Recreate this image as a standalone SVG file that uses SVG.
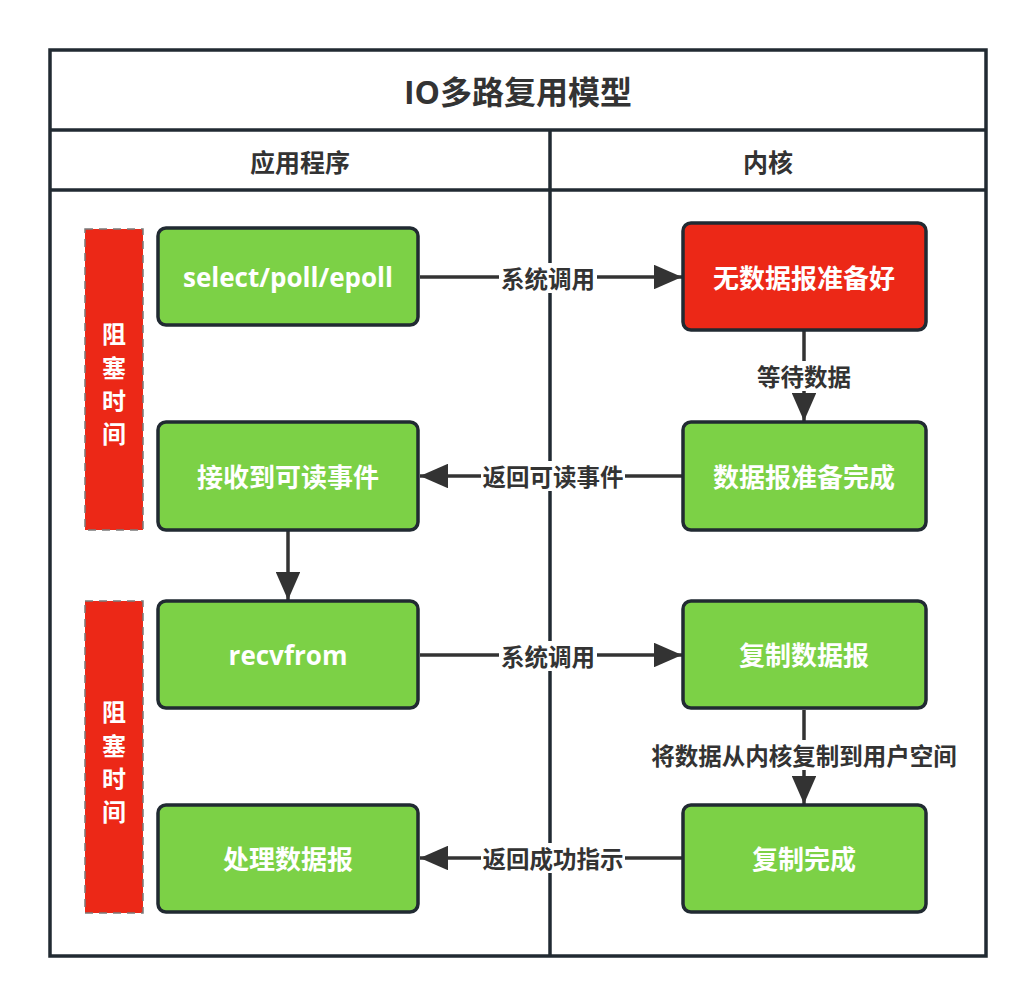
<svg xmlns="http://www.w3.org/2000/svg" width="1036" height="1006" viewBox="0 0 1036 1006">
<defs>
<style>
.frame{fill:none;stroke:#212a32;stroke-width:3.5}
.box{stroke:#212a32;stroke-width:3.5}
.g{fill:#7cd146}
.r{fill:#ec2817}
.bar{fill:#ec2817;stroke:#7a7a7a;stroke-width:1.5;stroke-dasharray:8 6}
.ntext{font-family:"Open Sans","Noto Sans CJK SC",sans-serif;font-weight:bold;font-size:26px;fill:#ffffff;text-anchor:middle;dominant-baseline:central}
.vtext{font-family:"Noto Sans CJK SC",sans-serif;font-weight:bold;font-size:24px;fill:#ffffff;text-anchor:middle;dominant-baseline:central}
.hdr{font-family:"Noto Sans CJK SC",sans-serif;font-weight:bold;font-size:25px;fill:#333333;text-anchor:middle;dominant-baseline:central}
.title{font-family:"Open Sans","Noto Sans CJK SC",sans-serif;font-weight:bold;font-size:32px;fill:#333333;text-anchor:middle;dominant-baseline:central}
.edge{fill:none;stroke:#333333;stroke-width:3.5}
.lbl{font-family:"Noto Sans CJK SC",sans-serif;font-weight:bold;font-size:23.5px;fill:#333333;text-anchor:middle;dominant-baseline:central}
.lblbg{fill:#ffffff}
</style>
<marker id="ah" markerWidth="8" markerHeight="7" refX="8" refY="3.5" orient="auto" markerUnits="strokeWidth">
<path d="M0,0 L8,3.5 L0,7 Z" fill="#333333"/>
</marker>
</defs>
<rect x="0" y="0" width="1036" height="1006" fill="#ffffff"/>
<g id="frame">
<rect class="frame" x="50" y="50" width="936" height="906"/>
<line class="frame" x1="50" y1="130" x2="986" y2="130"/>
<line class="frame" x1="50" y1="190" x2="986" y2="190"/>
<line class="frame" x1="550" y1="130" x2="550" y2="956"/>
<text class="title" x="518" y="91">IO多路复用模型</text>
<text class="hdr" x="300" y="161">应用程序</text>
<text class="hdr" x="768" y="161">内核</text>
</g>
<g id="bar1">
<rect class="bar" x="85" y="229" width="58" height="301"/>
<text class="vtext" x="114" y="332">阻</text>
<text class="vtext" x="114" y="366">塞</text>
<text class="vtext" x="114" y="399">时</text>
<text class="vtext" x="114" y="432">间</text>
</g>
<g id="bar2">
<rect class="bar" x="85" y="601" width="58" height="312"/>
<text class="vtext" x="114" y="710">阻</text>
<text class="vtext" x="114" y="744">塞</text>
<text class="vtext" x="114" y="777">时</text>
<text class="vtext" x="114" y="810">间</text>
</g>
<g id="connectors">
<line class="edge" x1="420" y1="277" x2="682" y2="277" marker-end="url(#ah)"/>
<line class="edge" x1="804" y1="331" x2="804" y2="421" marker-end="url(#ah)"/>
<line class="edge" x1="682" y1="476" x2="420" y2="476" marker-end="url(#ah)"/>
<line class="edge" x1="288" y1="531" x2="288" y2="600" marker-end="url(#ah)"/>
<line class="edge" x1="420" y1="655" x2="682" y2="655" marker-end="url(#ah)"/>
<line class="edge" x1="804" y1="710" x2="804" y2="804" marker-end="url(#ah)"/>
<line class="edge" x1="682" y1="858" x2="420" y2="858" marker-end="url(#ah)"/>
<rect class="lblbg" x="499" y="263" width="98" height="30"/>
<text class="lbl" x="548" y="278">系统调用</text>
<rect class="lblbg" x="755" y="361" width="98" height="30"/>
<text class="lbl" x="804" y="376">等待数据</text>
<rect class="lblbg" x="481" y="461" width="144" height="30"/>
<text class="lbl" x="553" y="476">返回可读事件</text>
<rect class="lblbg" x="499" y="641" width="98" height="30"/>
<text class="lbl" x="548" y="656">系统调用</text>
<rect class="lblbg" x="648" y="740" width="312" height="30"/>
<text class="lbl" x="804" y="755">将数据从内核复制到用户空间</text>
<rect class="lblbg" x="481" y="843" width="144" height="30"/>
<text class="lbl" x="553" y="858">返回成功指示</text>
</g>
<g id="n1">
<rect class="box g" x="158" y="228" width="260" height="97" rx="8"/>
<text class="ntext" x="288" y="277">select/poll/epoll</text>
</g>
<g id="n2">
<rect class="box r" x="683" y="223" width="243" height="107" rx="8"/>
<text class="ntext" x="804" y="278">无数据报准备好</text>
</g>
<g id="n3">
<rect class="box g" x="683" y="422" width="243" height="108" rx="8"/>
<text class="ntext" x="804" y="477">数据报准备完成</text>
</g>
<g id="n4">
<rect class="box g" x="158" y="422" width="260" height="108" rx="8"/>
<text class="ntext" x="288" y="477">接收到可读事件</text>
</g>
<g id="n5">
<rect class="box g" x="158" y="601" width="260" height="107" rx="8"/>
<text class="ntext" x="288" y="655">recvfrom</text>
</g>
<g id="n6">
<rect class="box g" x="683" y="601" width="243" height="107" rx="8"/>
<text class="ntext" x="804" y="655">复制数据报</text>
</g>
<g id="n7">
<rect class="box g" x="683" y="805" width="243" height="107" rx="8"/>
<text class="ntext" x="804" y="859">复制完成</text>
</g>
<g id="n8">
<rect class="box g" x="158" y="805" width="260" height="107" rx="8"/>
<text class="ntext" x="288" y="859">处理数据报</text>
</g>
</svg>
